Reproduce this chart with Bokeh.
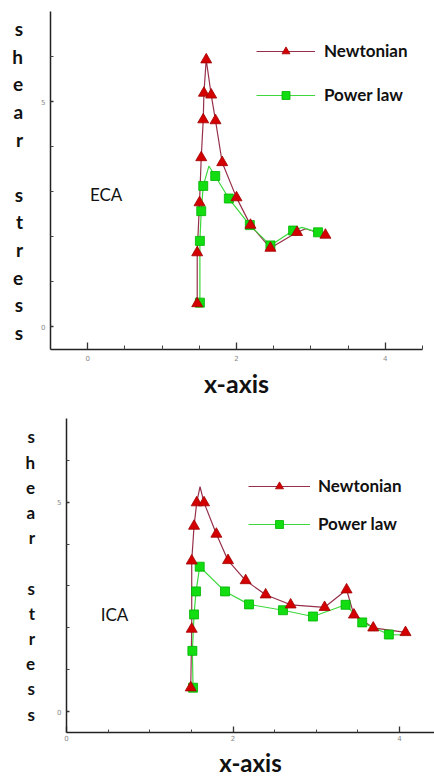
from bokeh.plotting import figure
from bokeh.models import (ColumnDataSource, CDSView, BooleanFilter, FixedTicker,
                          Label, Legend, LegendItem, Range1d)
from bokeh.embed import file_html
from bokeh.resources import INLINE

# ---------------- data ----------------
# ECA (top panel)
eca_newt_x = [1.472, 1.472, 1.503, 1.526, 1.553, 1.562, 1.593, 1.660, 1.718, 1.808, 2.000, 2.188, 2.456, 2.814, 2.930, 3.195]
eca_newt_y = [0.52, 1.65, 2.76, 3.76, 4.60, 5.19, 5.93, 5.15, 4.58, 3.65, 2.87, 2.26, 1.75, 2.10, 2.18, 2.04]
eca_newt_mark = [1, 1, 1, 1, 1, 1, 1, 1, 1, 1, 1, 1, 1, 1, 0, 1]
eca_pow_x = [1.508, 1.508, 1.526, 1.553, 1.629, 1.714, 1.897, 2.179, 2.456, 2.761, 2.880, 3.096]
eca_pow_y = [0.54, 1.91, 2.57, 3.13, 3.57, 3.35, 2.85, 2.26, 1.81, 2.14, 2.21, 2.10]
eca_pow_mark = [1, 1, 1, 1, 0, 1, 1, 1, 1, 1, 0, 1]

# ICA (bottom panel)
ica_newt_x = [1.492, 1.504, 1.504, 1.532, 1.564, 1.604, 1.652, 1.800, 1.940, 2.152, 2.392, 2.692, 3.100, 3.364, 3.452, 3.684, 4.072]
ica_newt_y = [0.57, 1.97, 3.60, 4.43, 4.99, 5.37, 4.99, 4.24, 3.61, 3.13, 2.79, 2.55, 2.49, 2.91, 2.31, 2.00, 1.89]
ica_newt_mark = [1, 1, 1, 1, 1, 0, 1, 1, 1, 1, 1, 1, 1, 1, 1, 1, 1]
ica_pow_x = [1.520, 1.512, 1.532, 1.556, 1.600, 1.904, 2.192, 2.600, 2.960, 3.352, 3.552, 3.872, 4.120]
ica_pow_y = [0.57, 1.45, 2.32, 2.87, 3.46, 2.87, 2.56, 2.42, 2.27, 2.55, 2.13, 1.84, 1.83]
ica_pow_mark = [1, 1, 1, 1, 1, 1, 1, 1, 1, 1, 1, 1, 0]

series_names = ["Newtonian", "Power law"]
x_major = [0, 2, 4]
y_major = [0, 5]
y_minor = [1, 2, 3, 4, 6]
ylabel_text = "shear stress"
xlabel_text = "x-axis"

RED_FILL = "#d40000"
RED_EDGE = "#a00000"
RED_LINE = "#96304a"
GRN_FILL = "#11dd11"
GRN_EDGE = "#00b400"
GRN_LINE = "#3cd83c"
FONT = "Lato"


def panel(name, nx, ny, nm, px, py, pm, xr, width, height, mb, xminor, tick_in_x,
          minor_in_x, name_pos, leg_loc, leg_glyph_w, leg_spacing, leg_standoff,
          yl_size, yl_standoff, xl_size, xl_standoff, xlab_standoff):
    p = figure(width=width, height=height, x_range=Range1d(*xr), y_range=Range1d(-0.5, 7),
               output_backend="svg", toolbar_location=None,
               min_border_left=mb[0], min_border_right=mb[1],
               min_border_top=mb[2], min_border_bottom=mb[3])
    p.xgrid.visible = False
    p.ygrid.visible = False
    p.outline_line_color = None

    sn = ColumnDataSource(dict(x=nx, y=ny))
    sp = ColumnDataSource(dict(x=px, y=py))
    ln = p.line("x", "y", source=sn, line_color=RED_LINE, line_width=1.2)
    lp = p.line("x", "y", source=sp, line_color=GRN_LINE, line_width=1.2)
    vn = CDSView(filter=BooleanFilter([bool(m) for m in nm]))
    vp = CDSView(filter=BooleanFilter([bool(m) for m in pm]))
    mp = p.scatter("x", "y", source=sp, view=vp, marker="square", size=9,
                   fill_color=GRN_FILL, line_color=GRN_EDGE, line_width=0.8)
    mn = p.scatter("x", "y", source=sn, view=vn, marker="triangle", size=11,
                   fill_color=RED_FILL, line_color=RED_EDGE, line_width=0.8)

    # axes
    p.xaxis.ticker = FixedTicker(ticks=x_major, minor_ticks=xminor)
    p.yaxis.ticker = FixedTicker(ticks=y_major, minor_ticks=y_minor)
    for ax in (p.xaxis[0], p.yaxis[0]):
        ax.axis_line_color = "#222222"
        ax.axis_line_width = 1.5
        ax.major_tick_line_color = "#333333"
        ax.minor_tick_line_color = "#444444"
        ax.major_tick_line_width = 1.3
        ax.major_tick_out = 0
        ax.minor_tick_out = 0
        ax.major_label_text_font = "DejaVu Sans"
        ax.major_label_text_font_size = "7px"
        ax.major_label_text_color = "#888888"
        ax.axis_label_text_font = FONT
        ax.axis_label_text_font_style = "bold"
        ax.axis_label_text_color = "#111111"
    p.xaxis.major_tick_in = tick_in_x
    p.xaxis.minor_tick_in = minor_in_x
    p.xaxis.major_label_standoff = xlab_standoff
    p.yaxis.major_tick_in = 3
    p.yaxis.minor_tick_in = 3
    p.yaxis.major_label_standoff = 5

    # x-axis title
    p.xaxis.axis_label = xlabel_text
    p.xaxis.axis_label_text_font_size = xl_size
    p.xaxis.axis_label_standoff = xl_standoff
    # y-axis title as stacked letters
    p.yaxis.axis_label = "\n".join(list(ylabel_text))
    p.yaxis.axis_label_orientation = "horizontal"
    p.yaxis.axis_label_text_font_size = yl_size
    p.yaxis.axis_label_standoff = yl_standoff
    p.yaxis.axis_label_text_align = "center"

    # legend
    legend = Legend(items=[LegendItem(label=series_names[0], renderers=[ln, mn]),
                           LegendItem(label=series_names[1], renderers=[lp, mp])],
                    location=leg_loc, glyph_width=leg_glyph_w, glyph_height=20,
                    label_height=20, label_standoff=leg_standoff, spacing=leg_spacing,
                    padding=0, margin=0, border_line_alpha=0, background_fill_alpha=0,
                    label_text_font=FONT, label_text_font_style="bold",
                    label_text_font_size="17px", label_text_color="#111111")
    p.add_layout(legend)

    # panel name
    p.add_layout(Label(x=name_pos[0], y=name_pos[1], text=name, text_font=FONT,
                       text_font_size="17px", text_color="#111111",
                       text_align="left", text_baseline="middle"))
    return p


top = panel("ECA", eca_newt_x, eca_newt_y, eca_newt_mark, eca_pow_x, eca_pow_y, eca_pow_mark,
            xr=(-0.5, 4.5), width=427, height=400, mb=(50, 5, 11, 50),
            xminor=[0.5, 1, 1.5, 2.5, 3, 3.5, 4.5], tick_in_x=7, minor_in_x=4,
            name_pos=(0.03, 2.93), leg_loc=(206, 244), leg_glyph_w=59, leg_spacing=23,
            leg_standoff=9, yl_size="19px", yl_standoff=15,
            xl_size="25px", xl_standoff=4, xlab_standoff=5)

bot = panel("ICA", ica_newt_x, ica_newt_y, ica_newt_mark, ica_pow_x, ica_pow_y, ica_pow_mark,
            xr=(0, 4.42), width=434, height=379, mb=(66, 0, 18, 44),
            xminor=[0.5, 1, 1.5, 2.5, 3, 3.5], tick_in_x=6, minor_in_x=3,
            name_pos=(0.41, 2.32), leg_loc=(182, 198), leg_glyph_w=62, leg_spacing=17,
            leg_standoff=8, yl_size="17px", yl_standoff=19,
            xl_size="24px", xl_standoff=4, xlab_standoff=2)

open("out.html", "w").write(file_html([top, bot], INLINE))
